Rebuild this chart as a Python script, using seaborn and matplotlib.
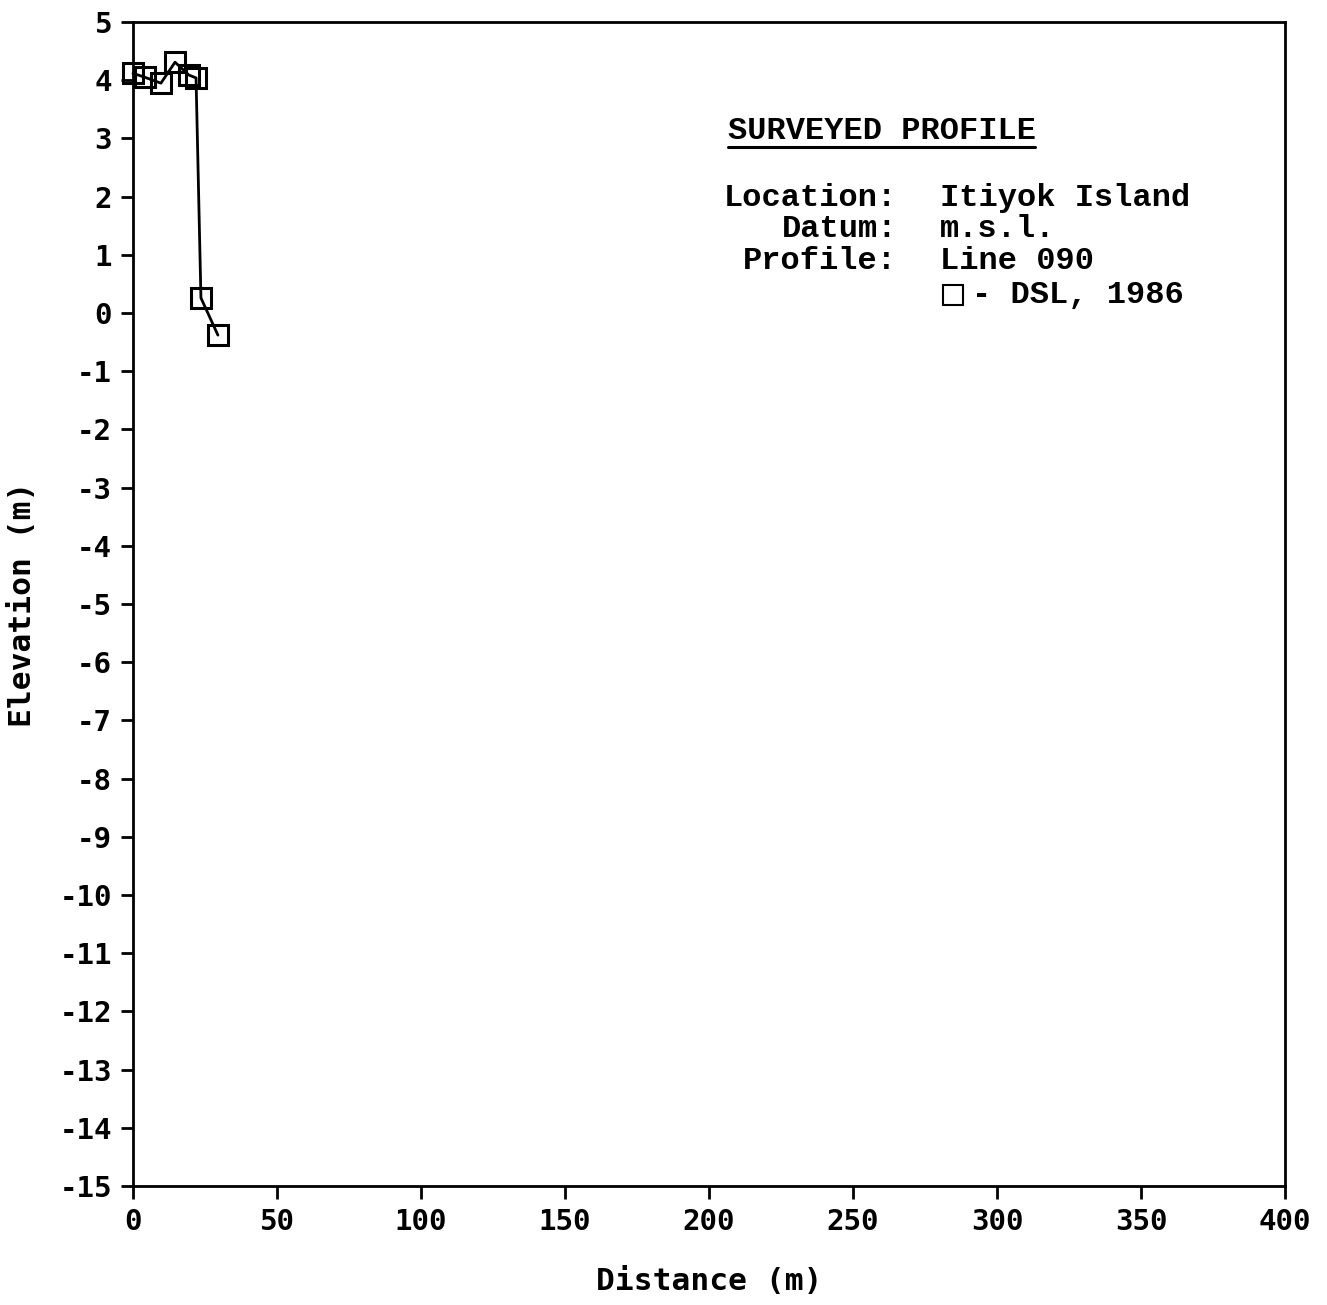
import matplotlib
matplotlib.use("Agg")
import matplotlib.pyplot as plt
import seaborn as sns
import pandas as pd

distance = [0.0, 4.2, 9.7, 14.6, 19.4, 21.9, 23.6, 29.5]
elevation = [4.12, 4.05, 3.95, 4.31, 4.09, 4.04, 0.26, -0.38]
x_ticks = [0, 50, 100, 150, 200, 250, 300, 350, 400]
y_ticks = list(range(-15, 6))

sns.set_style("white")
plt.rcParams['font.family'] = ['DejaVu Sans Mono', 'DejaVu Sans']
plt.rcParams['font.weight'] = 'bold'
plt.rcParams['text.color'] = 'black'
plt.rcParams['axes.labelcolor'] = 'black'
plt.rcParams['xtick.color'] = 'black'
plt.rcParams['ytick.color'] = 'black'

df = pd.DataFrame({"Distance": distance, "Elevation": elevation})

fig = plt.figure(figsize=(13.27, 13.05), dpi=100)
ax = fig.add_axes([0.1002, 0.0912, 0.8682, 0.8919])

sns.lineplot(data=df, x="Distance", y="Elevation", sort=False, ax=ax,
             color="black", linewidth=2, marker="s", markersize=14,
             markerfacecolor="none", markeredgecolor="black", markeredgewidth=2.2)
for ln in ax.lines:
    ln.set_clip_on(False)

ax.set_xlim(0, 400)
ax.set_ylim(-15, 5)
ax.set_xticks(x_ticks)
ax.set_yticks(y_ticks)
ax.set_xticklabels([str(v) for v in x_ticks], fontsize=21, fontweight='bold')
ax.set_yticklabels([str(v) for v in y_ticks], fontsize=21, fontweight='bold')
ax.tick_params(axis='both', direction='out', length=9, width=2, color='black',
               left=True, bottom=True, right=False, top=False)
ax.tick_params(axis='x', pad=7)
ax.tick_params(axis='y', pad=6)
for s in ax.spines.values():
    s.set_linewidth(2)
    s.set_color('black')

ax.set_xlabel("Distance (m)", fontsize=22.5, fontweight='bold', labelpad=22)
ax.set_ylabel("Elevation (m)", fontsize=22.5, fontweight='bold', labelpad=16)

# annotation block
tx = ax.transAxes
afont = ['Liberation Mono', 'DejaVu Sans Mono']
fs = 23
ax.text(0.5165, 0.9063, "SURVEYED PROFILE", transform=tx, fontsize=fs, family=afont,
        fontweight='bold', ha='left', va='center')
ax.plot([0.5165, 0.7830], [0.8926, 0.8926], transform=tx, color='black', lw=2.2, clip_on=False)
labels = ["Location:", "Datum:", "Profile:"]
values = ["Itiyok Island", "m.s.l.", "Line 090"]
ys = [0.8488, 0.8222, 0.7947]
for lab, val, yy in zip(labels, values, ys):
    ax.text(0.6632, yy, lab, transform=tx, fontsize=fs, family=afont, fontweight='bold',
            ha='right', va='center')
    ax.text(0.7005, yy, val, transform=tx, fontsize=fs, family=afont, fontweight='bold',
            ha='left', va='center')
ax.plot([0.7118], [0.7655], transform=tx, marker='s', markersize=15, markerfacecolor='none',
        markeredgecolor='black', markeredgewidth=1.5, clip_on=False)
ax.text(0.7283, 0.7655, "- DSL, 1986", transform=tx, fontsize=fs, family=afont,
        fontweight='bold', ha='left', va='center')

fig.savefig("out.png", dpi=100)
